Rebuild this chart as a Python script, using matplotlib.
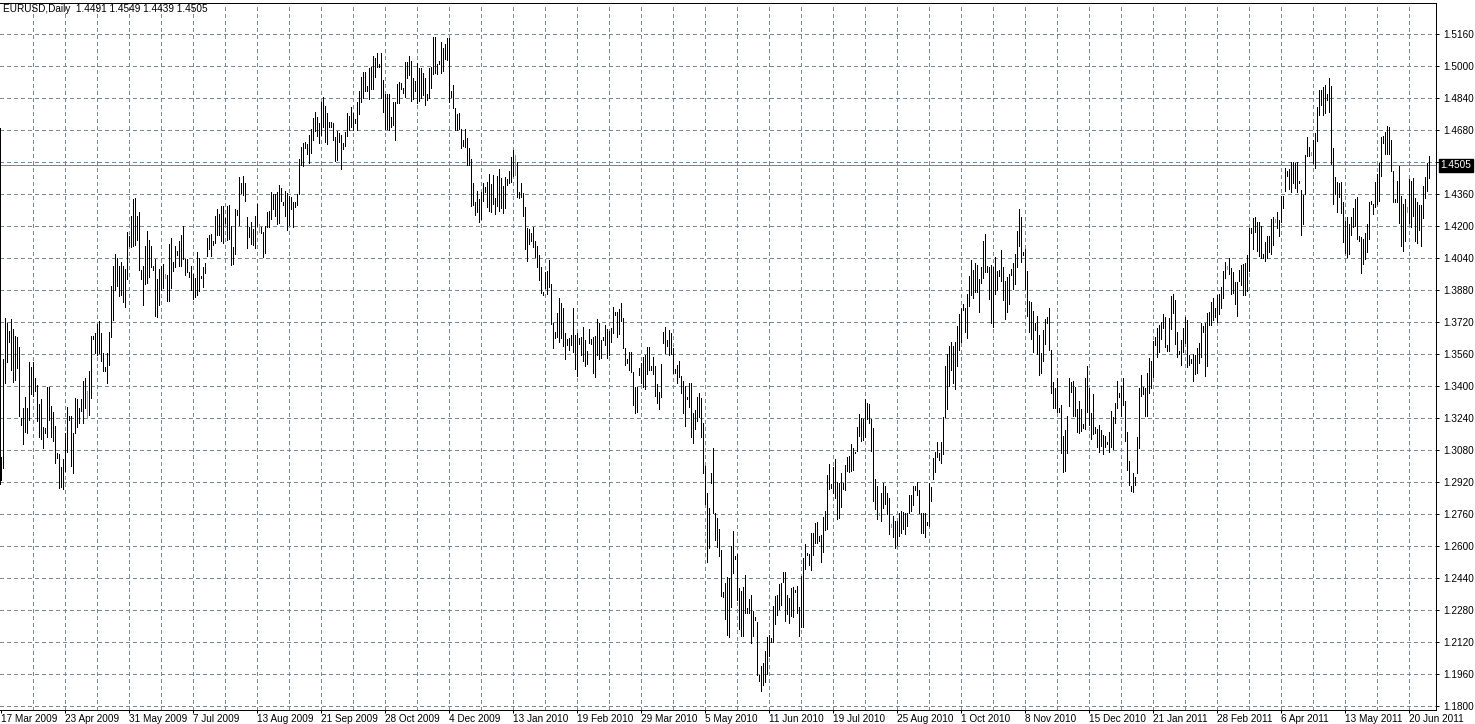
import numpy as np
import matplotlib
matplotlib.use("Agg")
import matplotlib.pyplot as plt
from matplotlib import font_manager

# ---------------- data (EURUSD daily, prices in pips = price * 10000) ----------------
symbol_title = "EURUSD,Daily"
last_ohlc = [1.4491, 1.4549, 1.4439, 1.4505]

high_pips = [
    # Mar 2009 - May 2009
    13047,13533,13738,13717,13675,13733,13683,13650,13647,13597,
    13238,13288,13343,13288,13520,13497,13520,13438,13405,13310,
    13335,13197,13188,13393,13393,13300,13270,13200,13067,13060,
    12993,13037,13163,13297,13250,13250,13167,13340,13333,13288,
    13333,13427,13438,13377,13473,13650,13650,13667,13710,13723,
    13667,13567,13497,13567,13670,13900,14000,14060,14040,14000,
    14022,
    # Jun 2009 - Jul 2009
    14000,13983,14172,14150,14250,14333,14338,14250,14272,13980,
    14000,14100,14177,14130,14100,14000,14033,13933,13983,14000,
    14010,13960,13955,14110,14138,14022,14100,14077,14127,14155,
    14200,14033,14033,13972,14000,13960,13938,14072,14038,13950,
    13993,14017,14138,14155,14160,14127,14250,14283,14260,14300,
    14300,14238,14300,14305,14200,14093,14283,14280,14443,14417,
    # Jul 2009 - Oct 2009
    14450,14417,14247,14193,14222,14183,14250,14310,14210,14197,
    14172,14200,14272,14277,14372,14360,14360,14372,14405,14388,
    14322,14377,14367,14350,14347,14322,14322,14360,14533,14597,
    14617,14622,14610,14655,14683,14738,14772,14743,14717,14822,
    14847,14800,14767,14722,14722,14717,14647,14677,14663,14655,
    14617,14672,14767,14750,14797,14767,14733,14822,14877,14943,
    # Oct 2009 - Dec 2009
    14972,14972,14902,14988,14997,15052,15038,15063,15008,15063,
    14930,14858,14858,14858,14747,14818,14818,14908,14918,14913,
    14888,15018,15022,15052,15025,14942,14925,15013,14992,14992,
    14963,14942,14858,14992,14997,15147,15147,15008,15025,15122,
    15092,15108,15138,15138,14875,14905,14788,14758,14763,14685,
    14630,14685,14642,14592,14535,14413,14322,14375,14335,14372,
    # Dec 2009 - Feb 2010
    14417,14397,14422,14460,14410,14455,14338,14450,14483,14438,
    14400,14443,14433,14477,14547,14580,14555,14522,14372,14417,
    14367,14297,14188,14183,14163,14193,14127,14100,14055,13997,
    13872,13972,13977,14030,13910,13717,13672,13763,13838,13817,
    13788,13663,13633,13638,13655,13788,13655,13667,13638,13643,
    13693,13630,13577,13683,13633,13643,13650,13733,13717,13630,
    # Feb 2010 - May 2010
    13643,13705,13683,13677,13688,13793,13772,13772,13783,13817,
    13738,13588,13533,13572,13572,13472,13393,13393,13488,13517,
    13543,13555,13597,13597,13500,13543,13500,13410,13372,13510,
    13672,13693,13630,13680,13663,13588,13483,13505,13527,13450,
    13427,13400,13347,13417,13417,13267,13280,13343,13363,13338,
    13213,13000,12863,12788,12967,13088,12763,12738,12683,12580,
    # May 2010 - Jul 2010
    12372,12417,12443,12438,12600,12677,12550,12560,12388,12377,
    12397,12455,12288,12333,12355,12277,12243,12222,11955,12000,
    12017,12077,12147,12155,12138,12300,12350,12355,12410,12417,
    12472,12472,12355,12338,12388,12393,12380,12400,12293,12450,
    12538,12610,12567,12560,12667,12663,12717,12722,12650,12655,
    12743,12777,12955,13010,12910,12997,13033,12922,12913,12963,
    # Jul 2010 - Sep 2010
    12917,13005,13043,13050,13110,13088,13072,13197,13260,13238,
    13233,13333,13313,13310,13233,13188,12933,12900,12767,12867,
    12917,12900,12867,12838,12710,12750,12727,12727,12763,12777,
    12772,12767,12763,12855,12855,12900,12900,12922,12880,12767,
    12767,12767,12722,12917,12897,13038,13072,13122,13063,13122,
    13247,13500,13560,13600,13620,13600,13620,13700,13760,13788,
    # Oct 2010 - Dec 2010
    13808,13792,13858,13952,14030,13980,14013,14005,13935,13997,
    14125,14158,14002,13997,14005,13997,14047,13975,13980,14080,
    13997,13925,13947,13958,13985,14013,14058,14175,14285,14247,
    14068,14085,13975,13825,13818,13775,13713,13752,13655,13563,
    13680,13735,13747,13788,13580,13418,13388,13442,13288,13305,
    13152,13180,13252,13442,13422,13425,13397,13285,13325,13285,
    # Dec 2010 - Feb 2011
    13210,13438,13500,13388,13267,13360,13193,13183,13205,13180,
    13155,13150,13122,13172,13277,13243,13317,13427,13367,13400,
    13438,13327,13172,13027,12900,12967,12943,13147,13388,13455,
    13393,13388,13467,13538,13527,13627,13647,13688,13705,13722,
    13760,13747,13605,13738,13850,13860,13830,13672,13577,13630,
    13688,13747,13730,13555,13533,13560,13555,13588,13617,13717,
    # Feb 2011 - Apr 2011
    13702,13713,13763,13772,13818,13838,13792,13855,13858,13897,
    13975,14022,14002,14038,13992,13968,13922,13922,13980,14005,
    14008,14013,14055,14188,14192,14238,14247,14222,14218,14202,
    14058,14118,14152,14152,14235,14247,14235,14272,14230,14352,
    14352,14492,14475,14485,14518,14522,14513,14518,14425,14380,
    14355,14555,14647,14597,14568,14630,14663,14797,14880,14880,
    # Apr 2011 - Jul 2011
    14893,14905,14860,14938,14900,14588,14443,14422,14417,14422,
    14322,14227,14243,14210,14243,14288,14333,14343,14150,14143,
    14133,14163,14210,14322,14327,14310,14422,14460,14517,14643,
    14650,14672,14700,14697,14630,14477,14333,14427,14500,14350,
    14310,14333,14293,14433,14427,14438,14338,14322,14305,14305,
    14400,14447,14517,14549,
]

low_pips = [
    12930,12988,13417,13522,13622,13480,13422,13430,13488,13250,
    13205,13110,13172,13167,13230,13360,13350,13377,13227,13147,
    13133,13088,13163,13143,13230,13143,13127,13017,13038,12888,
    12897,12885,12977,13072,13230,13002,12963,13167,13197,13213,
    13275,13217,13288,13243,13255,13338,13633,13563,13555,13567,
    13527,13477,13477,13417,13505,13647,13730,13880,13900,13850,
    13855,
    13822,13793,13933,14100,14097,14100,14105,14130,13980,13933,
    13805,13910,13917,13947,13993,13980,13750,13743,13805,13880,
    13888,13938,13827,13827,13888,13977,13997,14055,14000,14000,
    14033,13955,13972,13947,13880,13833,13843,13855,13877,13938,
    13897,13963,14050,14083,14050,14105,14117,14155,14155,14127,
    14117,14217,14130,14133,14005,14010,14060,14255,14205,14367,
    14355,14327,14088,14147,14110,14105,14088,14200,14172,14167,
    14047,14067,14197,14197,14233,14283,14250,14210,14213,14327,
    14305,14250,14180,14205,14283,14193,14297,14305,14360,14505,
    14500,14588,14560,14517,14567,14630,14677,14650,14617,14655,
    14697,14622,14610,14697,14697,14630,14527,14530,14622,14483,
    14583,14600,14650,14680,14697,14680,14713,14680,14760,14822,
    14842,14875,14875,14835,14885,14885,14947,14997,14997,14842,
    14772,14685,14685,14680,14697,14705,14630,14813,14813,14885,
    14863,14847,14942,14955,14825,14835,14875,14813,14825,14842,
    14855,14805,14830,14842,14888,14958,14963,14958,15008,14963,
    14975,15035,15030,14822,14847,14788,14680,14680,14685,14588,
    14602,14597,14505,14505,14302,14305,14255,14268,14218,14235,
    14327,14372,14297,14277,14272,14310,14260,14300,14277,14288,
    14263,14288,14405,14413,14422,14450,14455,14347,14338,14343,
    14250,14083,14027,14110,14127,14093,14043,13993,13930,13863,
    13855,13888,13860,13893,13710,13588,13638,13647,13622,13638,
    13600,13533,13605,13580,13605,13572,13483,13450,13610,13555,
    13527,13500,13510,13617,13610,13463,13443,13555,13533,13538,
    13630,13605,13538,13555,13622,13663,13755,13643,13660,13727,
    13588,13505,13517,13480,13472,13305,13267,13272,13455,13413,
    13393,13383,13460,13480,13480,13460,13350,13313,13283,13343,
    13613,13563,13600,13555,13560,13467,13467,13417,13443,13363,
    13267,13200,13333,13293,13147,13117,13183,13227,13247,13147,
    12963,12810,12522,12588,12917,12763,12630,12597,12550,12350,
    12343,12233,12155,12143,12297,12463,12533,12330,12183,12150,
    12150,12263,12267,12263,12113,12150,12230,11955,11927,11877,
    11905,11922,11960,12050,12122,12122,12210,12255,12283,12305,
    12422,12227,12260,12213,12250,12247,12372,12263,12150,12193,
    12193,12483,12555,12505,12480,12555,12613,12613,12627,12522,
    12572,12680,12683,12883,12888,12867,12838,12733,12738,12797,
    12883,12880,12977,12972,12977,12980,13063,13077,13150,13127,
    13130,13143,13233,13217,13077,12827,12783,12733,12755,12727,
    12788,12810,12760,12660,12697,12647,12588,12605,12650,12663,
    12683,12660,12700,12767,12777,12805,12880,12855,12763,12663,
    12663,12643,12705,12700,12827,12933,12972,13047,13030,13017,
    13060,13243,13283,13400,13480,13417,13383,13500,13580,13622,
    13780,13668,13638,13802,13855,13842,13872,13868,13772,13913,
    13942,13968,13968,13835,13713,13697,13858,13880,13952,13925,
    13830,13735,13768,13808,13955,13885,13908,13997,14102,14022,
    14055,13885,13752,13672,13635,13572,13680,13558,13455,13463,
    13525,13608,13713,13580,13363,13288,13288,13272,13268,13063,
    12968,12975,13063,13302,13372,13252,13252,13172,13163,13175,
    13188,13183,13272,13205,13133,13160,13167,13097,13072,13100,
    13060,13093,13110,13072,13093,13083,13217,13288,13343,13250,
    13305,13127,12980,12905,12877,12872,12905,12963,13088,13350,
    13360,13250,13250,13367,13388,13447,13605,13543,13572,13633,
    13688,13593,13577,13577,13683,13767,13610,13543,13560,13505,
    13572,13613,13497,13505,13513,13427,13460,13467,13513,13543,
    13672,13450,13500,13705,13705,13730,13747,13718,13758,13792,
    13838,13942,13985,13958,13858,13863,13808,13752,13925,13905,
    13855,13855,13875,13975,14163,14085,14168,14075,14052,14042,
    14038,14025,14042,14068,14058,14105,14218,14192,14152,14222,
    14292,14375,14452,14385,14372,14413,14392,14368,14413,14155,
    14208,14358,14552,14552,14555,14513,14492,14625,14755,14805,
    14755,14763,14830,14772,14510,14310,14360,14272,14343,14267,
    14122,14067,14043,14060,14155,14197,14200,14133,14127,13967,
    14010,14033,14072,14133,14310,14260,14297,14310,14327,14450,
    14617,14560,14560,14560,14477,14322,14322,14322,14217,14100,
    14077,14127,14272,14217,14193,14250,14127,14117,14180,14100,
    14238,14338,14377,14439,
]

# bars whose open equals close (drawn in the "line" colour)
doji_bars = [43, 82, 129, 257, 439, 445, 613, 637, 655, 703]

date_labels = ["17 Mar 2009", "23 Apr 2009", "31 May 2009", "7 Jul 2009", "13 Aug 2009",
               "21 Sep 2009", "28 Oct 2009", "4 Dec 2009", "13 Jan 2010", "19 Feb 2010",
               "29 Mar 2010", "5 May 2010", "11 Jun 2010", "19 Jul 2010", "25 Aug 2010",
               "1 Oct 2010", "8 Nov 2010", "15 Dec 2010", "21 Jan 2011", "28 Feb 2011",
               "6 Apr 2011", "13 May 2011", "20 Jun 2011"]
bars_per_label = 32
price_step = 0.0160
price_min_label = 1.1800
price_max_label = 1.5160

# ---------------- drawing ----------------
highs = np.array(high_pips) / 10000.0
lows = np.array(low_pips) / 10000.0
n = len(highs)
idx = np.arange(n)

avail = {f.name for f in font_manager.fontManager.ttflist}
fam = [f for f in ["Liberation Sans Narrow", "Liberation Sans", "DejaVu Sans"] if f in avail]

W, H = 1475, 724
fig = plt.figure(figsize=(W / 100, H / 100), dpi=100, facecolor="white")
px = 0.72  # one pixel in points

left_px, right_px, top_px, bot_px = 0, 1436, 3, 710
ax = fig.add_axes([left_px / W, 1 - bot_px / H, (right_px - left_px) / W, (bot_px - top_px) / H])
ax.set_facecolor("white")

# price scale: 1.5160 at y=34 px, 0.0005 per pixel
p_top = price_max_label + (34 - top_px) * 0.0005
p_bot = price_max_label - (bot_px - 34) * 0.0005
ax.set_ylim(p_bot, p_top)
ax.set_xlim(-0.65, -0.65 + (right_px - left_px) / 2.0)

grid_col = "#778899"
yticks = np.round(np.arange(price_min_label, price_max_label + 1e-9, price_step), 4)
for yv in yticks:
    ax.axhline(yv, color=grid_col, lw=px, dashes=(4, 3), antialiased=False, zorder=1)
for xv in range(16, n, 16):
    ax.axvline(xv, color=grid_col, lw=px, dashes=(4, 3), antialiased=False, zorder=1)

# current price line
close = last_ohlc[3]
ax.axhline(close, color=grid_col, lw=px, antialiased=False, zorder=1.5)

colors = ["#00ff00" if i in doji_bars else "black" for i in idx]
ax.vlines(idx, lows, highs, colors=colors, lw=px, antialiased=False, zorder=3)

# axes frame
for s in ["top", "right", "bottom", "left"]:
    ax.spines[s].set_linewidth(px)
    ax.spines[s].set_color("black")
ax.spines["left"].set_bounds(1.2910, 1.4690)

# y ticks on the right
ax.yaxis.tick_right()
ax.set_yticks(yticks)
ylabels = ["%.4f" % v if abs(v - close) > 0.0025 else "" for v in yticks]
ax.set_yticklabels(ylabels, fontsize=7.2, family=fam)
ax.tick_params(axis="y", direction="out", length=3 * px, width=px, pad=3, colors="black")

# x ticks
xt = [i * bars_per_label for i in range(len(date_labels))]
ax.set_xticks(xt)
ax.set_xticklabels(date_labels, fontsize=7.2, family=fam, ha="left")
ax.tick_params(axis="x", direction="out", length=3 * px, width=px, pad=1, colors="black")

# current price label box
ax.annotate("%.4f" % close, xy=(1.0, close), xycoords=("axes fraction", "data"),
            xytext=(3, 0), textcoords="offset points", ha="left", va="center",
            fontsize=7.2, family=fam, color="white",
            bbox=dict(boxstyle="square,pad=0.15", fc="black", ec="black"))

title = "%s  %.4f %.4f %.4f %.4f" % (symbol_title, *last_ohlc)
fig.text(3 / W, 1 - 9 / H, title, fontsize=7.2, family=fam, ha="left", va="center", color="black")

fig.savefig("out.png", dpi=100, facecolor="white")
